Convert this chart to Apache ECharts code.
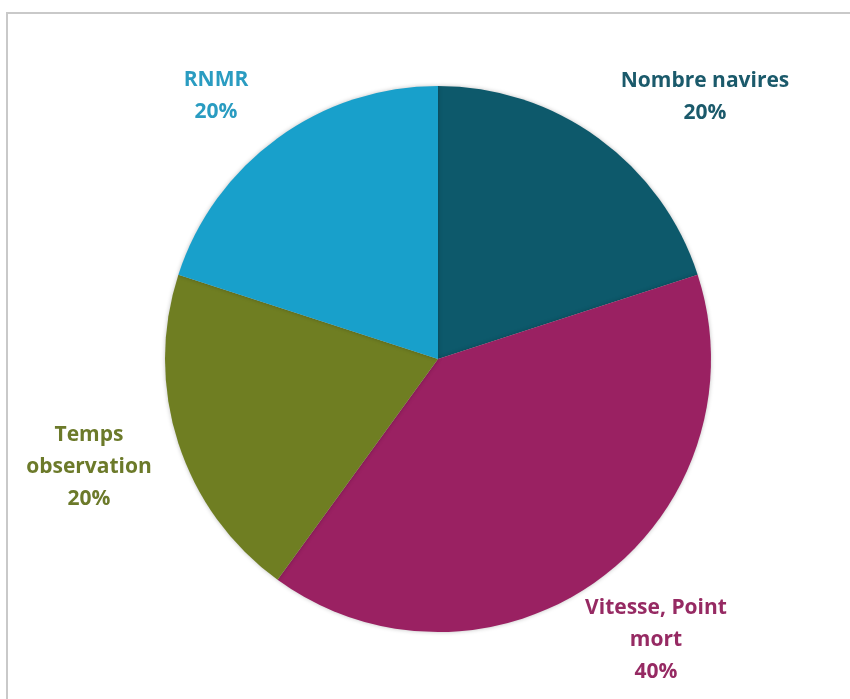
<!DOCTYPE html>
<html><head><meta charset="utf-8">
<script src="https://cdn.jsdelivr.net/npm/echarts@6/dist/echarts.min.js"></script>
<style>html,body{margin:0;padding:0;background:#fff}#c{width:850px;height:699px}</style>
</head><body><div id="c"></div>
<script>
var categories = ['Nombre navires', 'Vitesse, Point\nmort', 'Temps\nobservation', 'RNMR'];
var values = [20, 40, 20, 20];
var colors = ['#0d596b', '#9a2162', '#6f7e22', '#18a0cb'];
var labelColors = ['#1b5a6b', '#962a63', '#6c7a2a', '#2a9cc1'];
var labelPos = [[705, 97], [656, 640], [89, 467], [216, 96]];

var chart = echarts.init(document.getElementById('c'));
chart.setOption({
  animation: false,
  graphic: [{
    type: 'rect', shape: {x: 7, y: 13, width: 900, height: 800},
    style: {fill: 'none', stroke: '#c9c9c9', lineWidth: 2}, silent: true
  }],
  series: [{
    type: 'pie',
    center: [438, 359],
    radius: 273,
    startAngle: 90,
    clockwise: true,
    data: categories.map(function (c, i) {
      return {
        name: c, value: values[i],
        itemStyle: {color: colors[i]},
        label: {color: labelColors[i]}
      };
    }),
    itemStyle: {borderWidth: 0, shadowBlur: 4, shadowColor: 'rgba(0,0,0,0.25)'},
    label: {
      show: true,
      formatter: function (p) { return p.name + '\n' + p.percent + '%'; },
      fontFamily: 'Open Sans',
      fontWeight: 'bold',
      fontSize: 21,
      lineHeight: 32,
      align: 'center',
      overflow: 'none',
      width: 300
    },
    labelLine: {show: false},
    labelLayout: function (p) {
      var pos = labelPos[p.dataIndex];
      return {x: pos[0], y: pos[1], align: 'center', verticalAlign: 'middle'};
    }
  }]
});
</script></body></html>
